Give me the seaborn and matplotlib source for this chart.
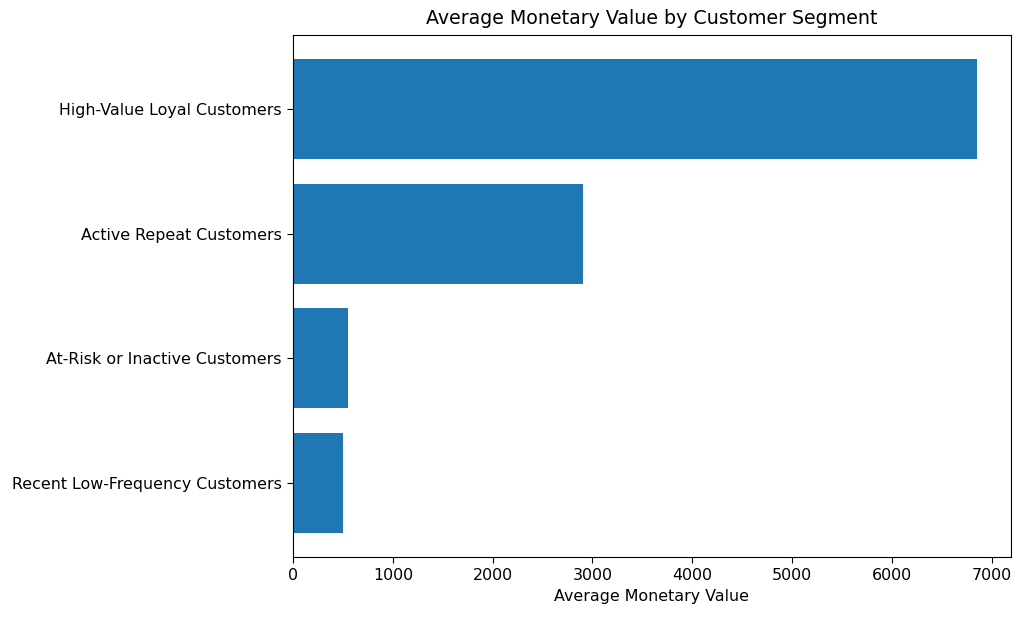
import pandas as pd
import seaborn as sns
import matplotlib.pyplot as plt

segments = [
    "High-Value Loyal Customers",
    "Active Repeat Customers",
    "At-Risk or Inactive Customers",
    "Recent Low-Frequency Customers",
]
avg_monetary = [6850, 2910, 552, 505]

df = pd.DataFrame({"segment": segments, "monetary": avg_monetary})

fig = plt.figure(figsize=(10.24, 6.18), dpi=100)
ax = fig.add_axes([293 / 1024, 1 - 557 / 618, (1011 - 293) / 1024, (557 - 35) / 618])
sns.barplot(data=df, x="monetary", y="segment", color="#1f77b4", saturation=1,
            width=0.8, ax=ax)
ax.set_ylim(3.59, -0.59)
ax.set_xlim(0, 6850 * 1.05)
ax.set_title("Average Monetary Value by Customer Segment", fontsize=13.7, pad=8)
ax.set_xlabel("Average Monetary Value", fontsize=11.4)
ax.set_ylabel("")
ax.tick_params(labelsize=11.4, length=4.5)
fig.savefig("out.png", dpi=100)
